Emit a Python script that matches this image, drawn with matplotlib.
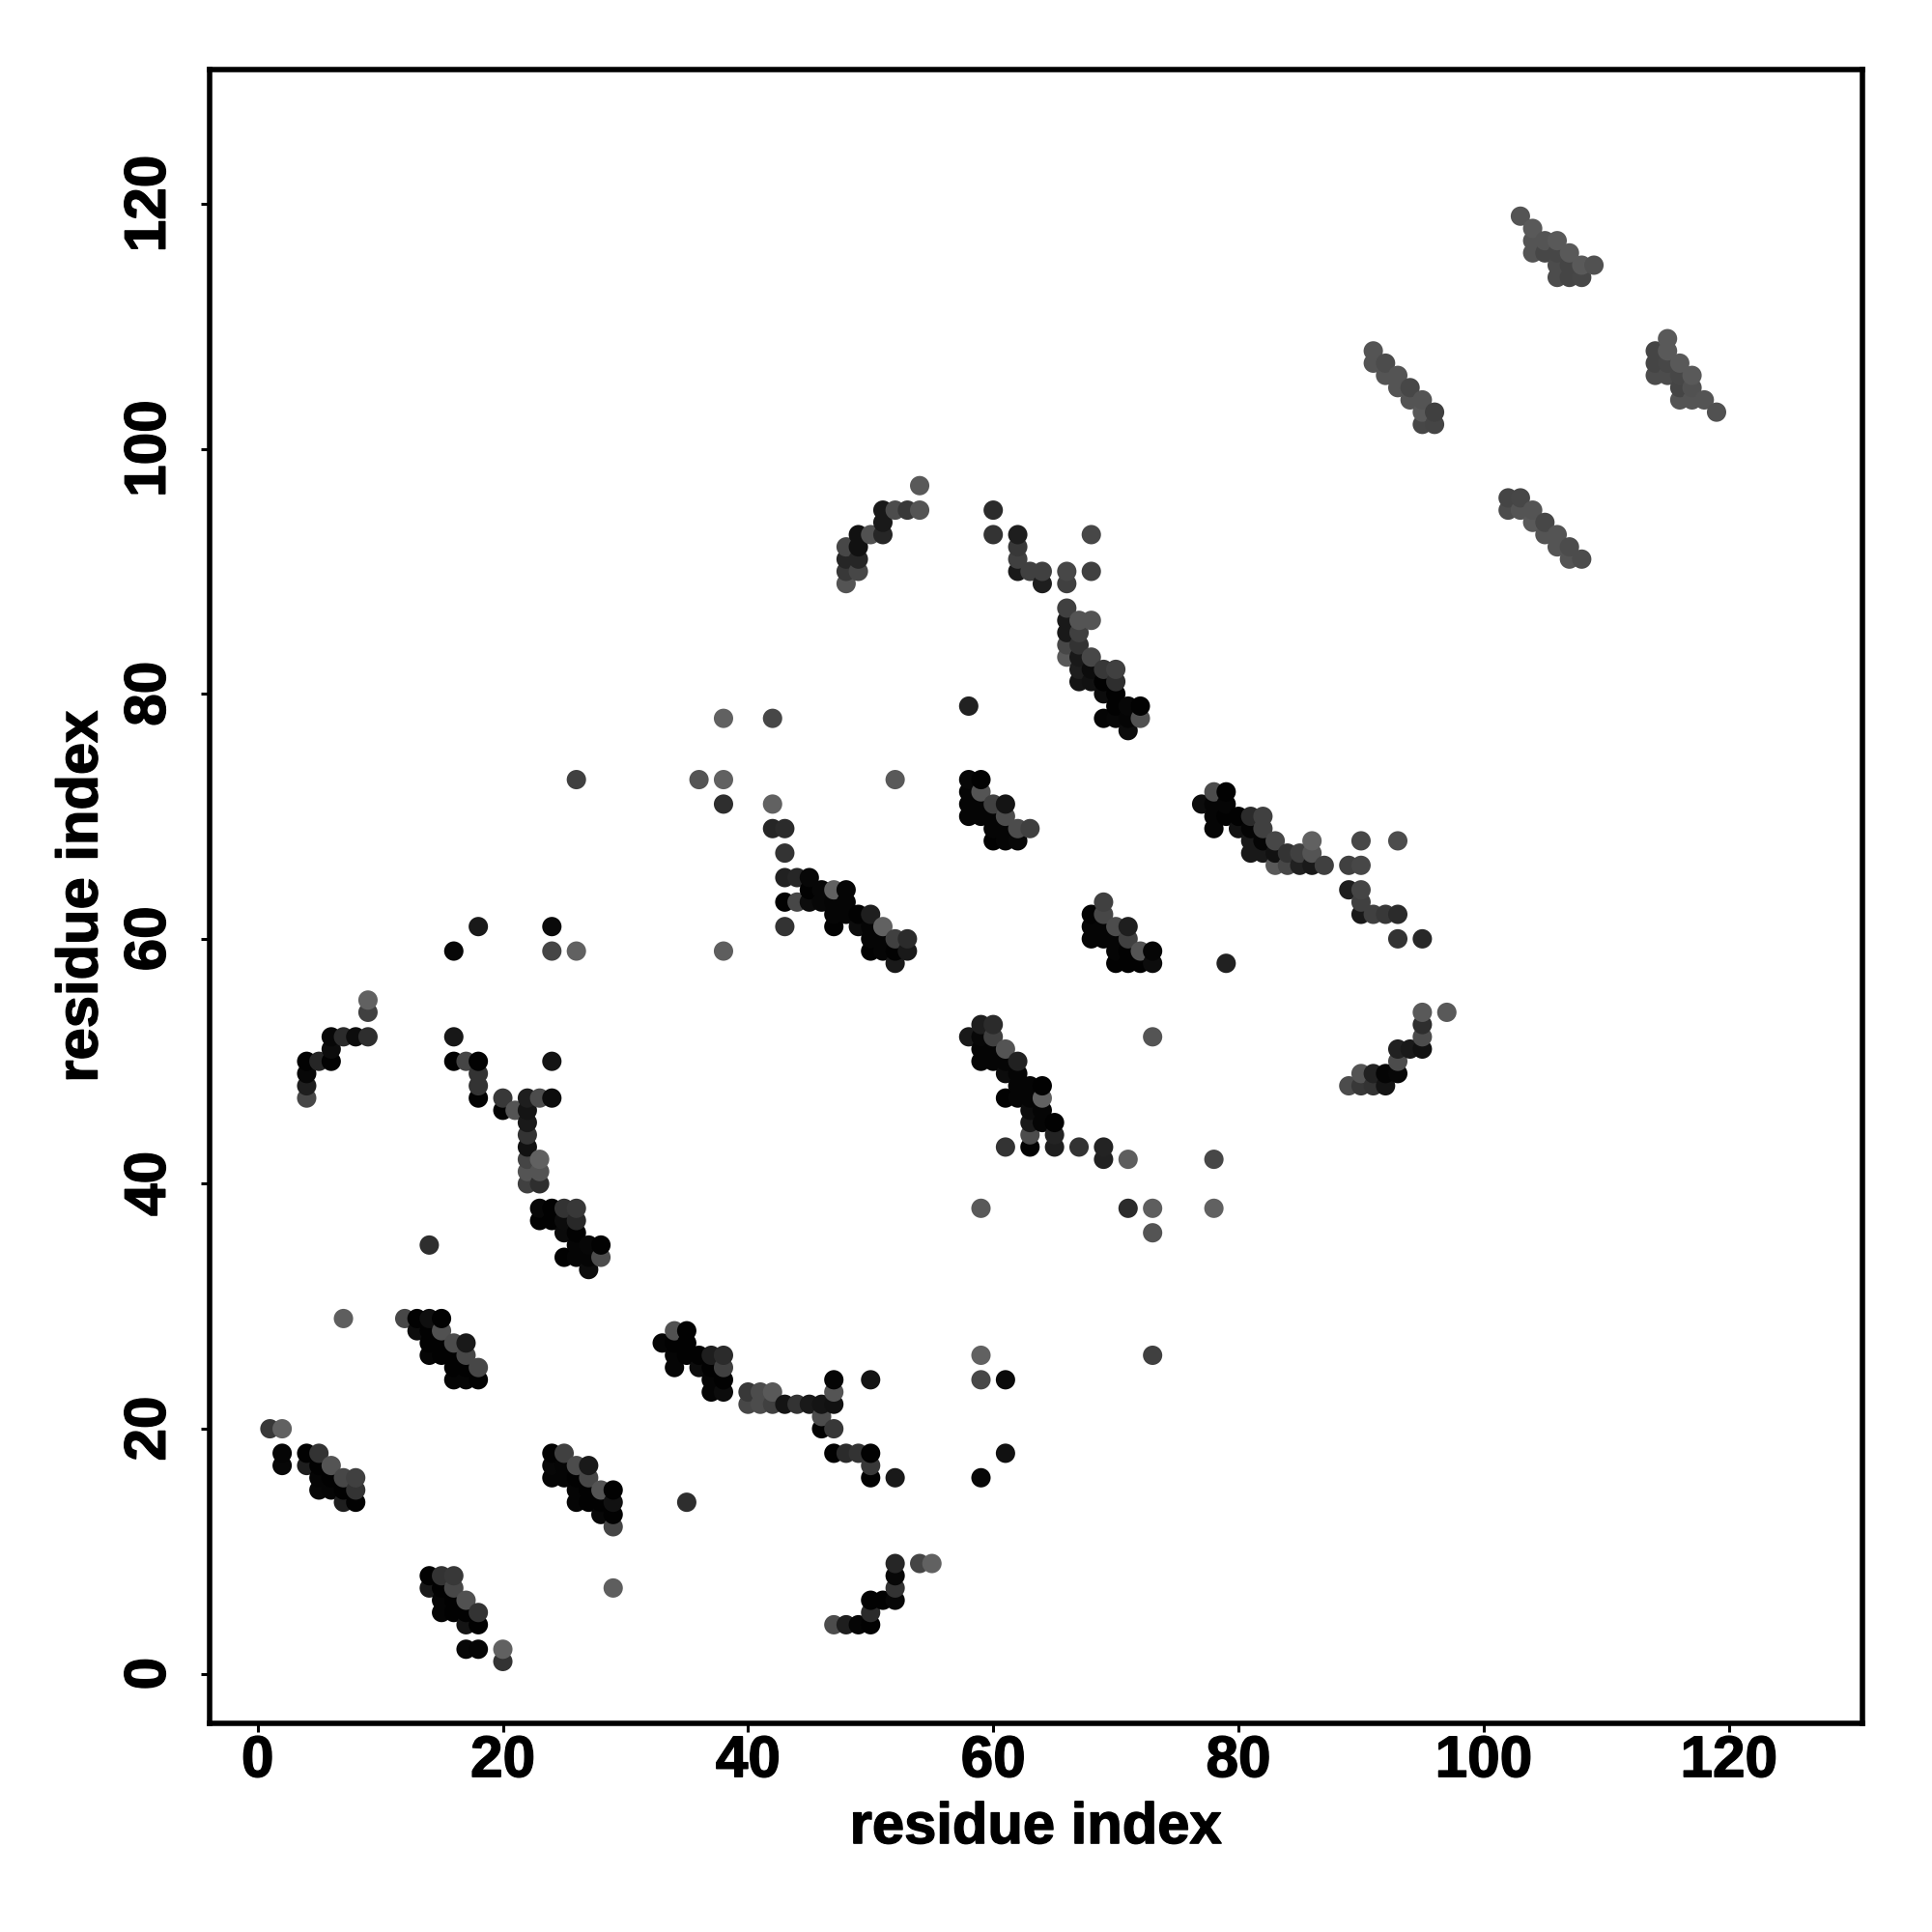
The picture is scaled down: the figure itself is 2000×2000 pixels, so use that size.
import numpy as np
import matplotlib
matplotlib.use('Agg')
import matplotlib.pyplot as plt
import matplotlib.patheffects as pe

# contact clusters: (residue i, residue j, grey level of the dot)
block_a = [(1,20,.22),(2,20,.38),(2,18,.02),(2,17,.03),(4,18,.01),(5,18,.2),(6,17,.33),(4,17,.12),(5,17,.01),
           (5,16,.02),(5,15,.03),(6,16,.01),(6,15,.02),(7,16,.28),(8,16,.25),(8,15,.2),(7,15,.01),(7,14,.12),(8,14,.01)]
block_b = [(7,29,.37),(12,29,.28),(13,29,.01),(14,29,.06),(15,29,.01),(13,28,.05),(14,28,.01),(15,28,.32),(14,27,.01),
           (15,27,.01),(16,27,.3),(17,27,.1),(14,26,.02),(15,26,.01),(16,26,.01),(17,26,.28),(16,25,.01),(17,25,.01),
           (18,25,.28),(16,24,.02),(17,24,.02),(18,24,.01)]
block_c = [(14,8,.01),(15,8,.2),(16,8,.22),(14,7,.1),(15,7,.01),(16,7,.28),(15,6,.02),(16,6,.01),(17,6,.32),(15,5,.02),
           (16,5,.01),(17,5,.01),(18,5,.2),(17,4,.08),(18,4,.01),(17,2,.03),(18,2,.02),(20,2,.38),(20,1,.2)]
block_d = [(24,18,.01),(25,18,.25),(26,17,.3),(27,17,.1),(24,17,.03),(25,17,.02),(24,16,.02),(25,16,.02),(26,16,.01),
           (27,16,.28),(26,15,.02),(27,15,.01),(28,15,.33),(29,15,.01),(26,14,.02),(27,14,.01),(28,14,.01),(29,14,.07),
           (28,13,.03),(29,13,.01),(29,12,.27),(29,7,.37),(35,14,.18)]
block_e = [(33,27,.02),(34,28,.32),(35,28,.01),(34,27,.01),(35,27,.01),(34,26,.02),(35,26,.01),(34,25,.02),(36,26,.01),
           (37,26,.12),(38,26,.17),(36,25,.05),(37,25,.01),(38,25,.25),(37,24,.02),(38,24,.01),(37,23,.02),(38,23,.05)]
block_f = [(40,23,.22),(41,23,.3),(42,23,.35),(40,22,.28),(41,22,.3),(42,22,.25),(43,22,.08),(44,22,.2),(45,22,.1),
           (46,22,.08),(47,22,.07),(47,23,.33),(47,24,.02),(50,24,.08),(46,21,.3),(46,20,.01),(47,20,.22),(47,18,.01),
           (48,18,.17),(49,18,.2),(50,18,.01),(50,17,.22),(50,16,.01),(52,16,.1),(59,26,.38),(59,24,.28),(61,24,.04),
           (59,16,.03),(61,18,.07),(73,26,.25)]
block_g = [(52,9,.15),(54,9,.27),(55,9,.38),(52,8,.03),(52,7,.2),(50,6,.01),(51,6,.01),(52,6,.03),(50,5,.17),(47,4,.3),
           (48,4,.12),(49,4,.02),(50,4,.01)]
block_h = [(18,61,.1),(24,61,.04),(16,59,.03),(24,59,.27),(26,59,.38),(9,55,.38),(9,54,.25),(6,52,.03),(7,52,.17),
           (8,52,.05),(9,52,.18),(6,51,.05),(4,50,.01),(5,50,.15),(6,50,.01),(4,49,.03),(4,48,.12),(4,47,.28),(26,73,.25)]
block_i = [(16,52,.09),(16,50,.01),(17,50,.27),(18,50,.01),(18,49,.2),(18,48,.2),(18,47,.01),(24,50,.08),(20,47,.22),
           (20,46,.01),(21,46,.33),(22,47,.12),(23,47,.3),(24,47,.05),(22,46,.08),(22,45,.1),(22,44,.2),(22,43,.07),
           (22,42,.27),(23,42,.38),(22,41,.33),(23,41,.33),(22,40,.25),(23,40,.18),(14,35,.18)]
block_j = [(23,38,.03),(24,38,.01),(25,38,.2),(26,38,.22),(23,37,.01),(24,37,.01),(25,37,.05),(26,37,.16),(25,36,.04),
           (26,36,.01),(26,35,.02),(27,35,.03),(28,35,.01),(25,34,.01),(26,34,.02),(27,34,.02),(28,34,.3),(27,33,.05)]
block_k = [(38,78,.38),(42,78,.28),(36,73,.33),(38,73,.38),(52,73,.35),(38,71,.18),(42,71,.38),(42,69,.15),(43,69,.17),
           (43,67,.2),(43,65,.13),(44,65,.15),(45,65,.03),(43,63,.01),(44,63,.28),(45,63,.05),(45,64,.01),(46,64,.03),
           (47,64,.38),(48,64,.02),(46,63,.03),(47,63,.02),(48,63,.02),(47,62,.02),(48,62,.02),(49,62,.01),(50,62,.12),
           (43,61,.2),(47,61,.01),(49,61,.05),(50,61,.02),(51,61,.38),(50,60,.02),(51,60,.02),(52,60,.25),(53,60,.17),
           (50,59,.01),(51,59,.02),(52,59,.01),(53,59,.1),(52,58,.1),(38,59,.37)]
block_l = [(58,73,.03),(59,73,.01),(58,72,.02),(59,72,.33),(58,71,.02),(59,71,.02),(60,71,.25),(61,71,.08),(58,70,.02),
           (59,70,.02),(60,70,.02),(61,70,.3),(60,69,.02),(61,69,.02),(62,69,.3),(63,69,.25),(60,68,.01),(61,68,.02),
           (62,68,.03)]
block_m = [(59,53,.12),(60,53,.17),(58,52,.1),(59,52,.03),(60,52,.25),(59,51,.02),(60,51,.02),(61,51,.33),(59,50,.02),
           (60,50,.02),(61,50,.02),(62,50,.13),(61,49,.05),(62,49,.02),(62,48,.02),(63,48,.02),(64,48,.01),(61,47,.01),
           (62,47,.02),(63,47,.02),(64,47,.38),(63,46,.05),(64,46,.02),(63,45,.1),(64,45,.02),(65,45,.01),(63,44,.3),
           (65,44,.14),(61,43,.2),(63,43,.01),(65,43,.12),(67,43,.2),(69,43,.14),(69,42,.13),(71,42,.37),(78,42,.28),
           (73,52,.33),(59,38,.35),(71,38,.17),(73,38,.37),(78,38,.38),(73,36,.33)]
block_n = [(78,72,.3),(79,72,.01),(77,71,.05),(78,71,.02),(79,71,.02),(78,70,.02),(79,70,.01),(80,70,.01),(81,70,.17),
           (82,70,.25),(78,69,.02),(80,69,.07),(81,69,.02),(82,69,.25),(81,68,.1),(82,68,.02),(83,68,.28),(86,68,.38),
           (81,67,.1),(82,67,.1),(83,67,.07),(84,67,.2),(85,67,.25),(86,67,.33),(83,66,.35),(84,66,.28),(85,66,.13),
           (86,66,.1),(87,66,.25),(89,66,.25),(90,66,.28),(90,68,.28),(93,68,.3),(89,64,.12),(90,64,.27),(90,63,.25),
           (90,62,.1),(91,62,.25),(92,62,.22),(93,62,.17),(93,60,.2),(95,60,.16)]
block_o = [(69,63,.25),(68,62,.01),(69,62,.28),(68,61,.02),(69,61,.02),(70,61,.3),(71,61,.12),(68,60,.02),(69,60,.02),
           (70,60,.02),(71,60,.25),(70,59,.02),(71,59,.01),(72,59,.33),(73,59,.02),(70,58,.01),(71,58,.01),(72,58,.01),
           (73,58,.05),(79,58,.13)]
block_p = [(95,54,.35),(97,54,.35),(95,53,.18),(95,52,.3),(93,51,.13),(94,51,.1),(95,51,.07),(93,50,.3),(90,49,.33),
           (91,49,.13),(92,49,.02),(93,49,.03),(89,48,.3),(90,48,.22),(91,48,.2),(92,48,.08)]
block_q = [(60,95,.17),(60,93,.2),(62,93,.12),(68,93,.28),(62,92,.22),(62,91,.25),(62,90,.1),(63,90,.25),(64,90,.25),
           (64,89,.12),(66,90,.28),(68,90,.25),(66,89,.25),(66,87,.25),(66,86,.1),(67,86,.33),(68,86,.33),(66,85,.1),
           (67,85,.25),(66,84,.28),(67,84,.2),(66,83,.35),(67,83,.1),(68,83,.28),(67,82,.12),(68,82,.05),(69,82,.22),
           (70,82,.25),(67,81,.08),(68,81,.07),(69,81,.01),(70,81,.18),(69,80,.05),(70,80,.01),(70,79,.01),(71,79,.03),
           (72,79,.01),(69,78,.02),(70,78,.03),(71,78,.02),(72,78,.32),(71,77,.05),(58,79,.13)]
block_r = [(54,97,.35),(54,95,.33),(53,95,.22),(52,95,.3),(51,95,.1),(51,94,.1),(51,93,.15),(50,93,.32),(49,93,.07),
           (49,92,.07),(48,92,.28),(48,91,.15),(49,91,.15),(48,90,.22),(49,90,.28),(48,89,.33)]
block_s = [(103,119,.33),(104,118,.35),(104,117,.33),(105,117,.33),(106,117,.35),(104,116,.33),(105,116,.28),(106,116,.28),
           (107,116,.35),(106,115,.3),(107,115,.27),(108,115,.35),(109,115,.32),(106,114,.3),(107,114,.27),(108,114,.28)]
block_t = [(91,108,.33),(91,107,.33),(92,107,.3),(92,106,.33),(93,106,.33),(93,105,.33),(94,105,.28),(94,104,.33),
           (95,104,.33),(95,103,.35),(96,103,.25),(95,102,.28),(96,102,.27)]
block_u = [(115,109,.35),(114,108,.27),(115,108,.35),(114,107,.27),(115,107,.28),(116,107,.35),(114,106,.3),(115,106,.3),
           (116,106,.28),(117,106,.35),(116,105,.27),(117,105,.32),(116,104,.33),(117,104,.33),(118,104,.33),(119,103,.32)]
block_v = [(102,96,.27),(103,96,.28),(102,95,.3),(103,95,.33),(104,95,.33),(104,94,.35),(105,94,.28),(105,93,.33),
           (106,93,.33),(106,92,.33),(107,92,.3),(107,91,.33),(108,91,.3)]

ticks = [0, 20, 40, 60, 80, 100, 120]

blocks = [block_a, block_b, block_c, block_d, block_e, block_f, block_g, block_h, block_i, block_j, block_k,
          block_l, block_m, block_n, block_o, block_p, block_q, block_r, block_s, block_t, block_u, block_v]
pts = np.array([p for b in blocks for p in b])
# later residues are painted over earlier ones
order = np.lexsort((pts[:, 1], pts[:, 0]))
pts = pts[order]

plt.rcParams['font.family'] = ['Liberation Sans', 'DejaVu Sans']
plt.rcParams['font.weight'] = 'bold'

fig = plt.figure(figsize=(10, 10), dpi=200)
ax = fig.add_axes([216.7/2000, 1 - 1784/2000, (1928-216.7)/2000, (1784-72)/2000])

ax.scatter(pts[:, 0], pts[:, 1], c=pts[:, 2], cmap='gray', vmin=0, vmax=1, s=52, linewidths=0, zorder=3)

ax.set_xlim(-3.94, 130.9)
ax.set_ylim(-4.05, 130.97)
ax.set_xticks(ticks)
ax.set_yticks(ticks)
ax.tick_params(length=3.4, width=1.1, labelsize=21.7)
ax.tick_params(axis='x', pad=1.0)
ax.tick_params(axis='y', pad=8.8)
for lab in ax.get_yticklabels():
    lab.set_rotation(90)
    lab.set_va('center')
for sp in ax.spines.values():
    sp.set_linewidth(2.0)

ax.set_xlabel('residue index', fontsize=21.5, fontweight='bold', labelpad=5)
ax.set_ylabel('residue index', fontsize=21.5, fontweight='bold', labelpad=5.5)

# the original's bold face is a little heavier than Liberation's
heavier = [pe.withStroke(linewidth=0.5, foreground='black')]
for txt in ax.get_xticklabels() + ax.get_yticklabels() + [ax.xaxis.label, ax.yaxis.label]:
    txt.set_path_effects(heavier)

fig.savefig('out.png', dpi=200)
